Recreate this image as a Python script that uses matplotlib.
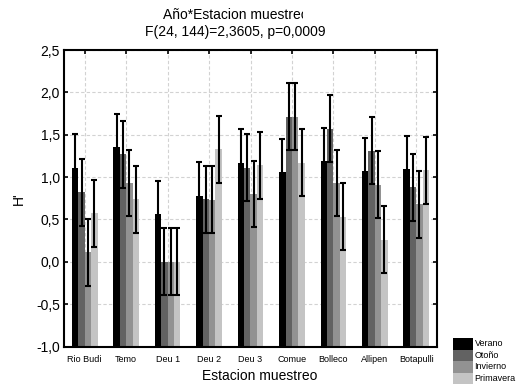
import matplotlib
matplotlib.use("Agg")
import matplotlib.pyplot as plt
import numpy as np
from matplotlib.patches import Rectangle
from matplotlib.transforms import Bbox, TransformedBbox

plt.rcParams['font.family'] = ['Liberation Sans', 'DejaVu Sans']

stations = ["Rio Budi", "Temo", "Deu 1", "Deu 2", "Deu 3", "Comue",
            "Bolleco", "Allipen", "Botapulli"]
seasons = ["Verano", "Otoño", "Invierno", "Primavera"]

verano    = [1.11, 1.35, 0.56, 0.78, 1.17, 1.06, 1.19, 1.07, 1.09]
otono     = [0.82, 1.27, 0.00, 0.74, 1.11, 1.71, 1.57, 1.31, 0.88]
invierno  = [0.11, 0.93, 0.00, 0.73, 0.80, 1.71, 0.93, 0.91, 0.68]
primavera = [0.57, 0.74, 0.00, 1.33, 1.14, 1.17, 0.53, 0.26, 1.08]
ci_half = 0.395  # 95% confidence half-width (pooled)

season_values = [verano, otono, invierno, primavera]
colors = ["#000000", "#626262", "#929292", "#c4c4c4"]
yticks = [-1.0, -0.5, 0.0, 0.5, 1.0, 1.5, 2.0, 2.5]

fig = plt.figure(figsize=(5.16, 3.87), dpi=100)
ax = fig.add_axes([64/516, 1 - 346.5/387, 373/516, 296.5/387])

y_floor = -1.0
x = np.arange(len(stations))
w = 0.155
for i, (vals, col) in enumerate(zip(season_values, colors)):
    vals = np.array(vals)
    xs = x + (i - 1.5) * w
    ax.bar(xs, vals - y_floor, bottom=y_floor, width=w, color=col,
           edgecolor='none', zorder=2)
    ax.errorbar(xs, vals, yerr=ci_half, fmt='none', ecolor='black',
                elinewidth=1.5, capsize=2.5, capthick=1.5, zorder=3)

ax.set_xlim(-0.5, len(stations) - 0.5)
ax.set_ylim(-1.0, 2.5)
ax.set_yticks(yticks)
ax.set_yticklabels([f"{v:.1f}".replace(".", ",") for v in yticks], fontsize=10)
ax.set_xticks(x)
ax.set_xticklabels(stations, fontsize=6.5)
ax.tick_params(direction='in', top=True, right=True, length=3, width=1.2)
ax.tick_params(axis='y', pad=3)
ax.tick_params(axis='x', pad=6)
ax.grid(True, linestyle=(0, (3, 2)), color='#d2d2d2', linewidth=0.8, zorder=0)
ax.set_axisbelow(True)
for s in ax.spines.values():
    s.set_linewidth(1.5)

ax.set_ylabel("H'", fontsize=10, labelpad=7)
fig.text(260/516, 1 - 376/387, "Estacion muestreo", fontsize=10,
         ha='center', va='center')

t1 = fig.text(236/516, 1 - 15/387, "Año*Estacion muestreo", fontsize=10,
              ha='center', va='center')
t1.set_clip_box(TransformedBbox(Bbox.from_extents(0, 0, 303/516, 1),
                                fig.transFigure))
t1.set_clip_on(True)
fig.text(235/516, 1 - 32/387, "F(24, 144)=2,3605, p=0,0009", fontsize=10,
         ha='center', va='center')

# Legend swatches stacked at the lower right
lx, lw, lh, ltop = 453, 20, 11.5, 338
for i, (name, col) in enumerate(zip(seasons, colors)):
    y0 = ltop + i * lh
    fig.add_artist(Rectangle((lx/516, 1 - (y0 + lh)/387), lw/516, lh/387,
                             transform=fig.transFigure, facecolor=col,
                             edgecolor='none'))
    fig.text((lx + lw + 1.5)/516, 1 - (y0 + lh/2)/387, name, fontsize=6.5,
             ha='left', va='center')

fig.savefig("out.png", dpi=100)
